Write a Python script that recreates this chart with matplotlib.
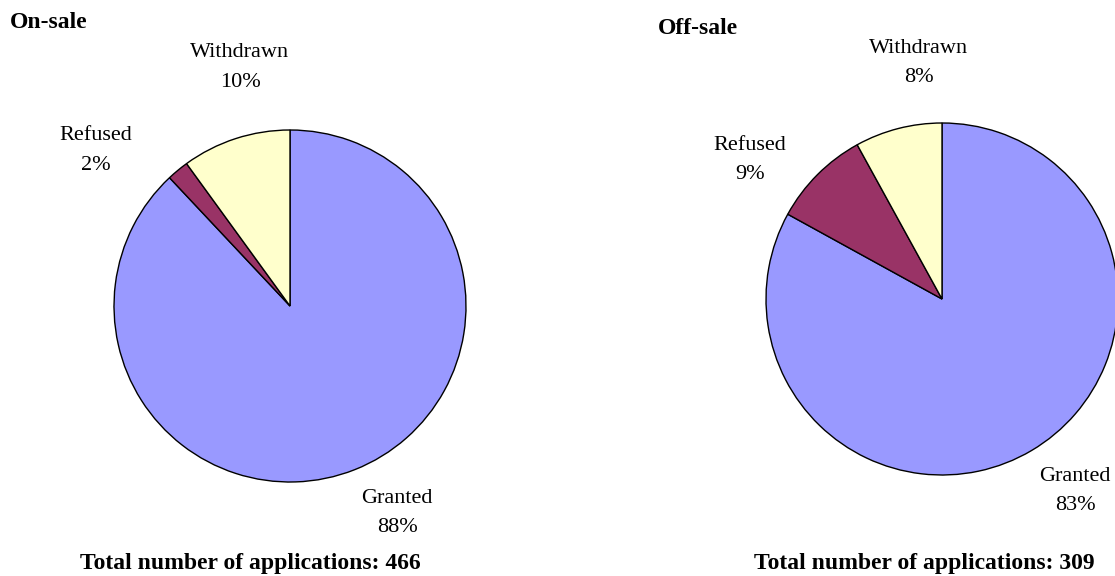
import matplotlib
matplotlib.use("Agg")
import matplotlib.pyplot as plt

categories = ["Granted", "Refused", "Withdrawn"]
on_sale = [88, 2, 10]
off_sale = [83, 9, 8]
on_total = 466
off_total = 309
colors = ["#9999FF", "#993366", "#FFFFCC"]

plt.rcParams['font.family'] = ['Liberation Serif', 'DejaVu Serif']
W, H = 1115, 576
fig = plt.figure(figsize=(W / 100, H / 100), dpi=100)

def make_axes(cx, cy, r):
    return fig.add_axes([(cx - r) / W, (H - cy - r) / H, 2 * r / W, 2 * r / H])

fs = 16
fs_bold = 17

def draw(ax, values, label_pos):
    ax.pie(values, colors=colors, startangle=90, counterclock=False, radius=1,
           wedgeprops=dict(edgecolor="black", linewidth=1.0))
    ax.set_xlim(-1, 1)
    ax.set_ylim(-1, 1)
    ax.set_aspect("equal")
    ax.axis("off")
    for cat, v, (x, y) in zip(categories, values, label_pos):
        ax.text(x, y, f"{cat}\n{v}%", ha="center", va="center", fontsize=fs,
                linespacing=1.75, clip_on=False)

ax1 = make_axes(290, 306, 176)
draw(ax1, on_sale, [(0.608, -1.176), (-1.102, 0.884), (-0.284, 1.355)])
ax2 = make_axes(942, 299, 176)
draw(ax2, off_sale, [(0.756, -1.091), (-1.091, 0.790), (-0.131, 1.341)])

fig.text(10 / W, 1 - 23 / H, "On-sale", fontsize=fs_bold, fontweight="bold", ha="left", va="center")
fig.text(658 / W, 1 - 28 / H, "Off-sale", fontsize=fs_bold, fontweight="bold", ha="left", va="center")
fig.text(250 / W, 1 - 563 / H, f"Total number of applications: {on_total}", fontsize=fs_bold,
         fontweight="bold", ha="center", va="center")
fig.text(924 / W, 1 - 564 / H, f"Total number of applications: {off_total}", fontsize=fs_bold,
         fontweight="bold", ha="center", va="center")

fig.savefig("out.png", dpi=100)
